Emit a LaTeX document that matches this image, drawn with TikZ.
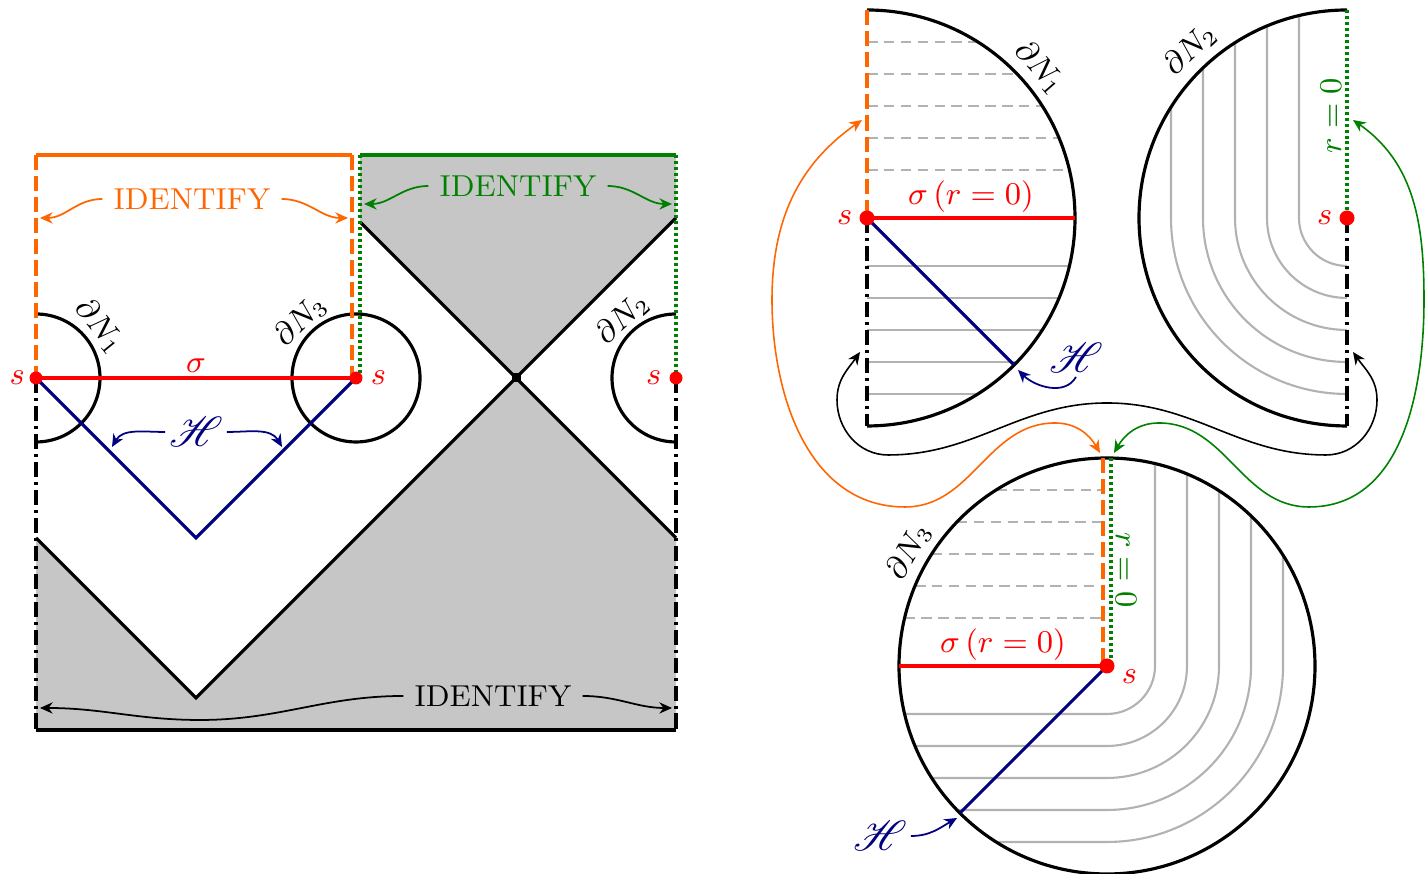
\documentclass[tikz,border=0pt]{standalone}
\usepackage{amsmath}
\usepackage{mathrsfs}
\usetikzlibrary{positioning,arrows.meta}

\definecolor{idorange}{RGB}{255,102,0}
\definecolor{idgreen}{RGB}{0,128,0}
\definecolor{hornavy}{RGB}{0,0,128}
\definecolor{regiongray}{RGB}{198,198,198}
\definecolor{foliagray}{RGB}{178,178,178}

\begin{document}
\begin{tikzpicture}[
		x=0.01cm, y=0.01cm,
		>={Stealth[length=3.6pt,width=3.2pt]},
		every node/.style={
			font=\fontsize{8.6}{10.3}\selectfont,
			inner sep=1pt
		},
		bdry/.style={line width=0.9pt},
		orangeside/.style={idorange, line width=0.9pt, dash pattern=on 4.3pt off 1.7pt},
		greenside/.style={idgreen, line width=0.9pt, dash pattern=on 0.85pt off 0.85pt},
		cutside/.style={black, line width=0.9pt, dash pattern=on 4.3pt off 1.4pt on 0.85pt off 1.4pt},
		leafdash/.style={foliagray, line width=0.6pt, dash pattern=on 3pt off 1.8pt},
		leaf/.style={foliagray, line width=0.6pt},
		sigline/.style={red, line width=0.9pt},
		horline/.style={hornavy, line width=0.9pt},
		horlabel/.style={hornavy, font=\fontsize{12.5}{14}\selectfont},
		glue/.style={<->, line width=0.45pt},
		identify/.style={inner sep=3pt}
		]
		
		\useasboundingbox (0,0) rectangle (1427,874);
		
		%--------------------------------------------------
		% Points
		%--------------------------------------------------
		
		\coordinate (sA) at (36,496);
		\coordinate (sB) at (356,496);
		\coordinate (sC) at (676,496);
		\coordinate (X) at (516,496);
		
		\coordinate (c1) at (867,656);
		\coordinate (c2) at (1347,656);
		\coordinate (c3) at (1107,208);
		
		%--------------------------------------------------
		% Left picture
		%--------------------------------------------------
		
		\fill[regiongray] (360,719) -- (676,719) -- (676,656) -- (X) -- (360,652) -- cycle;
		\fill[regiongray] (36,336) -- (196,176) -- (X) -- (676,336) -- (676,144) -- (36,144) -- cycle;
		
		\draw[bdry] (36,560) arc[start angle=90, end angle=-90, radius=64];
		\draw[bdry] (sB) circle[radius=64];
		\draw[bdry] (676,560) arc[start angle=90, end angle=270, radius=64];
		
		\draw[bdry] (360,652) -- (676,336);
		\draw[bdry] (36,336) -- (196,176) -- (676,656);
		\fill (X) +(-4.5,-4.5) rectangle +(4.5,4.5);
		
		\draw[idorange, line width=0.9pt] (36,719) -- (352,719);
		\draw[orangeside] (36,719) -- (sA);
		\draw[orangeside] (352,719) -- (352,496);
		\draw[idgreen, line width=0.9pt] (360,719) -- (676,719);
		\draw[greenside] (360,719) -- (360,496);
		\draw[greenside] (676,719) -- (sC);
		\draw[cutside] (sA) -- (36,144);
		\draw[cutside] (sC) -- (676,144);
		\draw[line width=1.2pt] (36,144) -- (676,144);
		
		\draw[horline] (sA) -- (196,336) -- (sB);
		\draw[sigline] (sA) -- node[above] {$\sigma$} (sB);
		\fill[red] (sA) circle[radius=6.5];
		\fill[red] (sB) circle[radius=6.5];
		\fill[red] (sC) circle[radius=6.5];
		\node[red, left=2pt] at (sA) {$s$};
		\node[red, right=3pt] at (sB) {$s$};
		\node[red, left=3pt] at (sC) {$s$};
		
		\node[rotate=-51] at ([shift={(39:82)}]sA) {$\partial N_1$};
		\node[rotate=44] at ([shift={(134:80)}]sB) {$\partial N_3$};
		\node[rotate=42] at ([shift={(132:80)}]sC) {$\partial N_2$};
		
		\node[horlabel] (hL) at (196,442) {$\mathscr{H}$};
		\coordinate (hLa) at (112,427);
		\coordinate (hLb) at (282,427);
		\draw[->, hornavy, line width=0.5pt] (hL.west) to[out=180,in=60] (hLa);
		\draw[->, hornavy, line width=0.5pt] (hL.east) to[out=0,in=120] (hLb);
		
		% identifications
		\node[idorange, identify] (idO) at (192,675) {IDENTIFY};
		\coordinate (oL) at (40,656);
		\coordinate (oR) at (348,656);
		\draw[->, idorange, line width=0.5pt] (idO.west) to[out=180,in=0] (oL);
		\draw[->, idorange, line width=0.5pt] (idO.east) to[out=0,in=180] (oR);
		
		\node[idgreen, identify] (idG) at (518,688) {IDENTIFY};
		\coordinate (gL) at (364,670);
		\coordinate (gR) at (672,670);
		\draw[->, idgreen, line width=0.5pt] (idG.west) to[out=180,in=0] (gL);
		\draw[->, idgreen, line width=0.5pt] (idG.east) to[out=0,in=180] (gR);
		
		\node[identify] (idK) at (493,178) {IDENTIFY};
		\coordinate (kL) at (40,166);
		\coordinate (kR) at (672,166);
		\draw[->, line width=0.5pt] (idK.west) to[out=180,in=0] (200,154) to[out=180,in=0] (kL);
		\draw[->, line width=0.5pt] (idK.east) to[out=0,in=180] (kR);
		
		%--------------------------------------------------
		% Right pictures
		%--------------------------------------------------
		
		% N1
		\foreach \d/\w in {48/202.4,80/192,112/175.3,144/150.1,176/110.9}{
			\draw[leafdash] (867,656+\d) -- ++(\w,0);
			\draw[leaf] (867,656-\d) -- ++(\w,0);
		}
		\draw[bdry] (867,864) arc[start angle=90, end angle=-90, radius=208];
		\draw[orangeside] (867,864) -- (c1);
		\draw[cutside] (c1) -- (867,448);
		\draw[horline] (c1) -- ++(-45:208);
		\draw[sigline] (c1) -- node[above] {$\sigma\,(r=0)$} ++(208,0);
		\fill[red] (c1) circle[radius=7.5];
		\node[red, left=3pt] at (c1) {$s$};
		\node[rotate=-49] at ([shift={(41:229)}]c1) {$\partial N_1$};
		\node[horlabel] (hA) at (1076,516) {$\mathscr{H}$};
		\coordinate (tA) at (1018,504);
		\draw[->, hornavy, line width=0.5pt] (hA.south) to[out=-120,in=-45] (tA);
		
		% N2
		\foreach \d/\w in {48/202.4,80/192,112/175.3,144/150.1,176/110.9}{
			\draw[leaf] (1347-\d,656+\w) -- (1347-\d,656) arc[start angle=180, end angle=270, radius=\d];
		}
		\draw[bdry] (1347,864) arc[start angle=90, end angle=270, radius=208];
		\draw[greenside] (1347,864) -- (c2);
		\draw[cutside] (c2) -- (1347,448);
		\fill[red] (c2) circle[radius=7.5];
		\node[red, left=3pt] at (c2) {$s$};
		\node[idgreen, rotate=90] at (1331,758) {$r=0$};
		\node[rotate=43] at ([shift={(133:230)}]c2) {$\partial N_2$};
		
		% N3
		\foreach \d/\w in {48/202.4,80/192,112/175.3,144/150.1,176/110.9}{
			\draw[leafdash] (1107-\w,208+\d) -- (1103,208+\d);
			\draw[leaf] (1107+\d,208+\w) -- (1107+\d,208) arc[start angle=0, end angle=-90, radius=\d] -- (1107-\w,208-\d);
		}
		\draw[bdry] (c3) circle[radius=208];
		\draw[orangeside] (1103,416) -- (1103,208);
		\draw[greenside] (1111,416) -- (1111,208);
		\draw[sigline] (c3) -- node[above] {$\sigma\,(r=0)$} ++(-208,0);
		\draw[horline] (c3) -- ++(225:208);
		\fill[red] (c3) circle[radius=7.5];
		\node[red, below right=0pt and 3pt] at (c3) {$s$};
		\node[idgreen, rotate=-90] at (1126,304) {$r=0$};
		\node[rotate=60] at ([shift={(150:229)}]c3) {$\partial N_3$};
		\node[horlabel] (hC) at (880,38) {$\mathscr{H}$};
		\coordinate (tC) at (957,56);
		\draw[->, hornavy, line width=0.5pt] (hC.east) to[out=0,in=-150] (tC);
		
		%--------------------------------------------------
		% Gluing
		%--------------------------------------------------
		
		\coordinate (oTop) at (862,754);
		\coordinate (oBot) at (1100,421);
		\coordinate (gTop) at (1353,754);
		\coordinate (gBot) at (1114,421);
		\coordinate (kTop) at (860,522);
		\coordinate (kTopR) at (1353,522);
		
		\draw[glue, idorange] (oTop) to[out=215,in=90] (772,574) to[out=-90,in=180] (905,367)
		to[out=0,in=180] (1055,451) to[out=0,in=120] (oBot);
		\draw[glue, idgreen] (gTop) to[out=-35,in=90] (1424,574) to[out=-90,in=0] (1309,367)
		to[out=180,in=0] (1159,451) to[out=180,in=60] (gBot);
		\draw[glue] (kTop) to[out=235,in=90] (837,474) to[out=-90,in=180] (888,419)
		to[out=0,in=180] (1107,471) to[out=0,in=180] (1326,419) to[out=0,in=-90] (1377,474)
		to[out=90,in=-55] (kTopR);
		
	\end{tikzpicture}
\end{document}
